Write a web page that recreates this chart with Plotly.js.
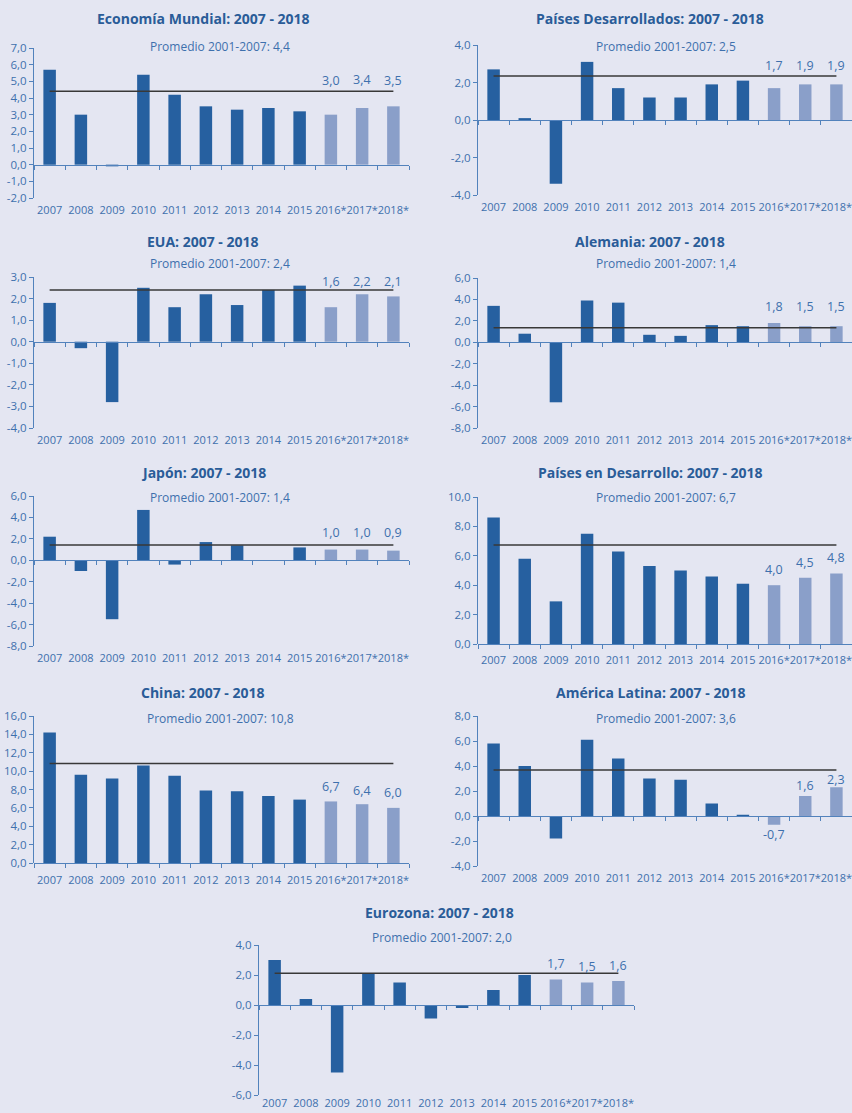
<!DOCTYPE html>
<html>
<head>
<meta charset="utf-8">
<script src="https://cdn.plot.ly/plotly-3.0.1.min.js"></script>
<style>
  html, body { margin: 0; padding: 0; background: #e4e6f2; }
  #chart { width: 852px; height: 1113px; }
</style>
</head>
<body>
<div id="chart"></div>
<script>
// ---- Data (growth %) ----
const categories = ['2007','2008','2009','2010','2011','2012','2013','2014','2015','2016*','2017*','2018*'];

const mundial       = [5.7, 3.0, -0.1, 5.4, 4.2, 3.5, 3.3, 3.4, 3.2, 3.0, 3.4, 3.5];
const desarrollados = [2.7, 0.1, -3.4, 3.1, 1.7, 1.2, 1.2, 1.9, 2.1, 1.7, 1.9, 1.9];
const eua           = [1.8, -0.3, -2.8, 2.5, 1.6, 2.2, 1.7, 2.4, 2.6, 1.6, 2.2, 2.1];
const alemania      = [3.4, 0.8, -5.6, 3.9, 3.7, 0.7, 0.6, 1.6, 1.5, 1.8, 1.5, 1.5];
const japon         = [2.2, -1.0, -5.5, 4.7, -0.4, 1.7, 1.4, 0.0, 1.2, 1.0, 1.0, 0.9];
const enDesarrollo  = [8.6, 5.8, 2.9, 7.5, 6.3, 5.3, 5.0, 4.6, 4.1, 4.0, 4.5, 4.8];
const china         = [14.2, 9.6, 9.2, 10.6, 9.5, 7.9, 7.8, 7.3, 6.9, 6.7, 6.4, 6.0];
const latina        = [5.8, 4.0, -1.8, 6.1, 4.6, 3.0, 2.9, 1.0, 0.1, -0.7, 1.6, 2.3];
const eurozona      = [3.0, 0.4, -4.5, 2.1, 1.5, -0.9, -0.2, 1.0, 2.0, 1.7, 1.5, 1.6];

const titulos = ['Economía Mundial', 'Países Desarrollados', 'EUA', 'Alemania', 'Japón',
                 'Países en Desarrollo', 'China', 'América Latina', 'Eurozona'];
const periodo = '2007 - 2018';
// stated 2001-2007 average (subtitle) and level at which the average line is drawn
const promedio      = [4.4, 2.5, 2.4, 1.4, 1.4, 6.7, 10.8, 3.6, 2.0];
const lineaPromedio = [4.4, 2.35, 2.4, 1.35, 1.43, 6.74, 10.83, 3.68, 2.11];

const series = [mundial, desarrollados, eua, alemania, japon, enDesarrollo, china, latina, eurozona];

// ---- Layout / style per panel (pixel geometry) ----
const W = 852, H = 1113;
const fx = x => x / W;
const fy = y => 1 - y / H;
const panels = [
  {yr:[-2,7],  dt:1, x0:34,  x1:409, yt:48,  yb:198,  tx:203, ty:19,  sx:220, sy:46,  lab:2, shifts:[34,28,26]},
  {yr:[-4,4],  dt:2, x0:478, x1:852, yt:45,  yb:195,  tx:650, ty:19,  sx:666, sy:46,  lab:2, shifts:[23,19,19]},
  {yr:[-4,3],  dt:1, x0:34,  x1:409, yt:277, yb:428,  tx:203, ty:241, sx:220, sy:263, lab:2, shifts:[26,13,15]},
  {yr:[-8,6],  dt:2, x0:478, x1:852, yt:278, yb:428,  tx:650, ty:241, sx:666, sy:263, lab:2, shifts:[17,20,20]},
  {yr:[-8,6],  dt:2, x0:34,  x1:409, yt:496, yb:646,  tx:203, ty:472, sx:220, sy:497, lab:2, shifts:[17,17,18]},
  {yr:[0,10],  dt:2, x0:478, x1:852, yt:497, yb:644,  tx:650, ty:472, sx:666, sy:497, lab:6, shifts:[16,15,16]},
  {yr:[0,16],  dt:2, x0:34,  x1:409, yt:716, yb:863,  tx:203, ty:692, sx:220, sy:718, lab:7, shifts:[15,14,15]},
  {yr:[-4,8],  dt:2, x0:478, x1:852, yt:716, yb:866,  tx:650, ty:692, sx:666, sy:718, lab:2, shifts:[-10,11,8]},
  {yr:[-6,4],  dt:2, x0:259, x1:634, yt:945, yb:1095, tx:439, ty:912, sx:442, sy:937, lab:0, shifts:[16,16,16]}
];

const DARK = '#2660a0', LIGHT = '#8a9fc9';
const AXIS = '#5282bc', TICKTXT = '#3e70ad', TITLE = '#2a5c98', LINE = '#383838';
const FONT = 'Open Sans, Noto Sans, sans-serif';
const fmt = v => v.toFixed(1).replace('.', ',');

const data = [];
const layout = {
  width: W, height: H,
  margin: {l:0, r:0, t:0, b:0},
  paper_bgcolor: '#e4e6f2', plot_bgcolor: 'rgba(0,0,0,0)',
  showlegend: false,
  bargap: 0.6,
  separators: ',.',
  font: {family: FONT, color: TICKTXT, size: 11},
  annotations: []
};

panels.forEach((p, i) => {
  const n = i + 1;
  const xa = n === 1 ? 'x' : 'x' + n;
  const ya = n === 1 ? 'y' : 'y' + n;
  const xo = 'x' + (10 + i);
  const vals = series[i];
  const xd = [fx(p.x0), Math.min(1, fx(p.x1))];
  const yd = [fy(p.yb), fy(p.yt)];

  data.push({
    type: 'bar', x: categories, y: vals, xaxis: xa, yaxis: ya,
    marker: {color: categories.map(c => c.includes('*') ? LIGHT : DARK), line: {width: 0}},
    hoverinfo: 'skip'
  });
  data.push({
    type: 'scatter', mode: 'lines', xaxis: xa, yaxis: ya,
    x: [categories[0], categories[categories.length - 1]],
    y: [lineaPromedio[i], lineaPromedio[i]],
    line: {color: LINE, width: 1.5}, hoverinfo: 'skip'
  });
  // invisible trace to feed the zero-line category axis
  data.push({
    type: 'scatter', mode: 'markers', xaxis: xo, yaxis: ya,
    x: categories, y: vals, marker: {opacity: 0}, hoverinfo: 'skip'
  });

  const tickvals = [];
  for (let v = p.yr[0]; v <= p.yr[1] + 1e-9; v += p.dt) tickvals.push(v);

  layout[n === 1 ? 'xaxis' : 'xaxis' + n] = {
    domain: xd, anchor: ya, type: 'category', range: [-0.5, categories.length - 0.5],
    showline: false, ticks: p.lab > 0 ? 'outside' : '', ticklen: Math.max(p.lab, 1), tickcolor: 'rgba(0,0,0,0)',
    showgrid: false, zeroline: false, tickangle: 0,
    tickfont: {size: 11, color: TICKTXT, family: FONT}, fixedrange: true
  };
  const zeroPos = yd[0] + (0 - p.yr[0]) / (p.yr[1] - p.yr[0]) * (yd[1] - yd[0]);
  layout['xaxis' + (10 + i)] = {
    overlaying: xa, anchor: 'free', position: zeroPos, domain: xd,
    type: 'category', range: [-0.5, categories.length - 0.5],
    showline: true, linecolor: AXIS, linewidth: 1,
    ticks: 'outside', tickson: 'boundaries', ticklen: 4, tickcolor: AXIS, tickwidth: 1,
    showticklabels: false, showgrid: false, zeroline: false, fixedrange: true
  };
  layout[n === 1 ? 'yaxis' : 'yaxis' + n] = {
    domain: yd, anchor: xa, range: p.yr,
    tickmode: 'array', tickvals: tickvals, ticktext: tickvals.map(fmt),
    showline: true, linecolor: AXIS, linewidth: 1,
    ticks: 'outside', ticklen: 4, tickcolor: AXIS,
    showgrid: false, zeroline: false,
    tickfont: {size: 11.5, color: TICKTXT, family: FONT}, fixedrange: true
  };

  layout.annotations.push({
    xref: 'paper', yref: 'paper', x: fx(p.tx), y: fy(p.ty), xanchor: 'center', yanchor: 'middle',
    text: '<b>' + titulos[i] + ': ' + periodo + '</b>', showarrow: false,
    font: {family: FONT, size: 14, color: TITLE}
  });
  layout.annotations.push({
    xref: 'paper', yref: 'paper', x: fx(p.sx), y: fy(p.sy), xanchor: 'center', yanchor: 'middle',
    text: 'Promedio 2001-2007: ' + fmt(promedio[i]), showarrow: false,
    font: {family: FONT, size: 12, color: TICKTXT}
  });
  categories.forEach((c, k) => {
    if (!c.includes('*')) return;
    const j = k - (categories.length - 3);
    layout.annotations.push({
      xref: xa, yref: ya, x: c, y: vals[k], yshift: p.shifts[j],
      xanchor: 'center', yanchor: 'middle', showarrow: false,
      text: fmt(vals[k]), font: {family: FONT, size: 12.5, color: TICKTXT}
    });
  });
});

Plotly.newPlot('chart', data, layout, {displayModeBar: false, staticPlot: true});
</script>
</body>
</html>
